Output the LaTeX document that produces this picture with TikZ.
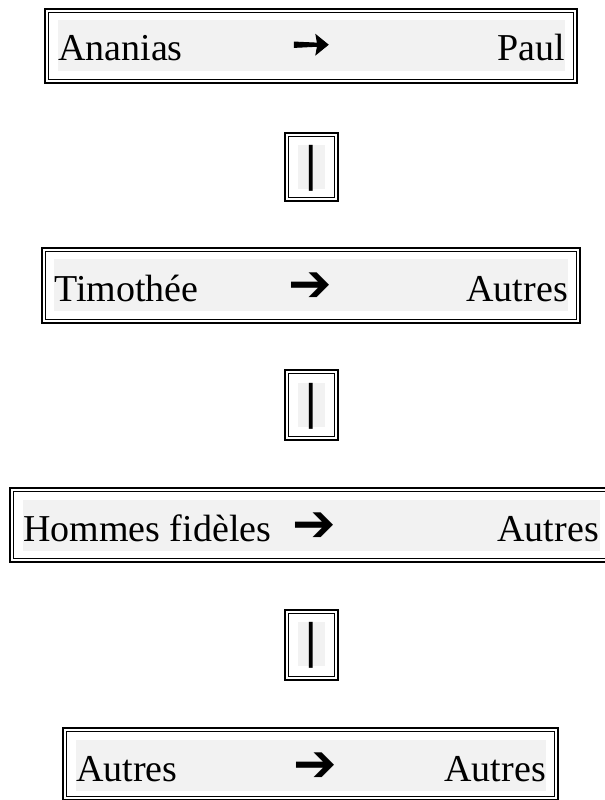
\documentclass[tikz,border=0pt]{standalone}
\usepackage{fontspec}
\setmainfont{Liberation Serif}
\newfontfamily\dejavu{DejaVu Sans}
\newfontfamily\dejavuheavy[FakeBold=2]{DejaVu Sans}
\definecolor{shadegray}{HTML}{F2F2F2}
\tikzset{
  outerline/.style={draw=black, line width=2bp},
  innerline/.style={draw=black, line width=1.3bp},
  shadefill/.style={fill=shadegray, draw=none},
  word/.style={inner sep=0pt, font=\fontsize{38bp}{44bp}\selectfont},
  arrowa/.style={inner sep=0pt, font=\dejavuheavy\fontsize{46bp}{50bp}\selectfont},
  arrowb/.style={inner sep=0pt, font=\dejavu\fontsize{52bp}{56bp}\selectfont},
  barmark/.style={inner sep=0pt, font=\dejavu\fontsize{46bp}{50bp}\selectfont}
}
\newcommand\dblframe[4]{%
  \draw[outerline] (#1+1,#2+1) rectangle (#3-1,#4-1);
  \draw[innerline] (#1+4.35,#2+4.35) rectangle (#3-4.35,#4-4.35);
}
\begin{document}
\begin{tikzpicture}[x=1bp,y=-1bp]
\useasboundingbox (0,0) rectangle (605,800);
\begin{scope}
\clip (0,0) rectangle (605,800);
% box 1
\fill[shadefill] (58,20) rectangle (565,71);
\dblframe{44}{8}{578}{84}
\node[word, anchor=base west] (b1l) at (58,61) {Ananias};
\node[word, anchor=base east] (b1r) at (565,61) {Paul};
\node[arrowa] (b1a) at (311,47) {➙};
% small 1
\fill[shadefill] (298,145) rectangle (325,189);
\dblframe{284}{132}{339}{202}
\node[barmark] (s1) at (311.5,168) {|};
% box 2
\fill[shadefill] (54,259) rectangle (568,311);
\dblframe{41}{247}{581}{324}
\node[word, anchor=base west] (b2l) at (54,301) {Timothée};
\node[word, anchor=base east] (b2r) at (568,301) {Autres};
\node[arrowb] (b2a) at (310,287) {➔};
% small 2
\fill[shadefill] (298,383) rectangle (325,427);
\dblframe{284}{369}{339}{441}
\node[barmark] (s2) at (311.5,406) {|};
% box 3
\fill[shadefill] (23,500) rectangle (600,551);
\dblframe{9}{487}{613}{563}
\node[word, anchor=base west] (b3l) at (23,541) {Hommes fidèles};
\node[word, anchor=base east] (b3r) at (599,541) {Autres};
\node[arrowb] (b3a) at (314.5,527) {➔};
% small 3
\fill[shadefill] (298,622) rectangle (325,666);
\dblframe{284}{609}{339}{681}
\node[barmark] (s3) at (311.5,645) {|};
% box 4
\fill[shadefill] (76,740) rectangle (546,791);
\dblframe{62}{727}{559}{801}
\node[word, anchor=base west] (b4l) at (76,781) {Autres};
\node[word, anchor=base east] (b4r) at (546,781) {Autres};
\node[arrowb] (b4a) at (315.5,767) {➔};
\end{scope}
\end{tikzpicture}
\end{document}
